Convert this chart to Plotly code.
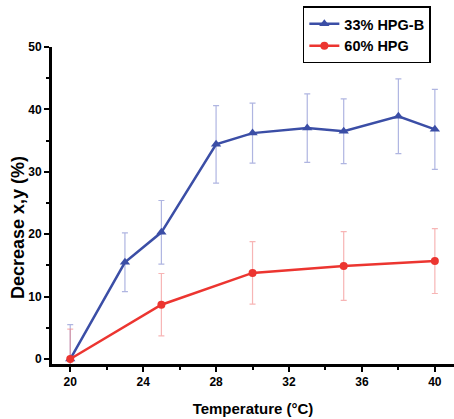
import plotly.graph_objects as go

temp_b = [20, 23, 25, 28, 30, 33, 35, 38, 40]
dec_b = [0, 15.5, 20.3, 34.4, 36.2, 37.0, 36.5, 38.9, 36.8]
err_b = [5.5, 4.7, 5.1, 6.2, 4.8, 5.5, 5.2, 6.0, 6.4]

temp_r = [20, 25, 30, 35, 40]
dec_r = [0, 8.7, 13.8, 14.9, 15.7]
err_r = [4.8, 5.0, 5.0, 5.5, 5.2]

x_ticks = [20, 24, 28, 32, 36, 40]
y_ticks = [0, 10, 20, 30, 40, 50]

FONT = "Liberation Sans, Arial, sans-serif"
BLUE = "#3b4ea6"
RED = "#ec3530"

fig = go.Figure()
fig.add_trace(go.Scatter(
    x=temp_b, y=dec_b, mode="lines+markers", name="33% HPG-B",
    line=dict(color=BLUE, width=2.5),
    marker=dict(symbol="triangle-up", size=9, color=BLUE),
    error_y=dict(type="data", array=err_b, color="rgba(110,120,200,0.55)",
                 thickness=1.2, width=3),
))
fig.add_trace(go.Scatter(
    x=temp_r, y=dec_r, mode="lines+markers", name="60% HPG",
    line=dict(color=RED, width=2.5),
    marker=dict(symbol="circle", size=8, color=RED),
    error_y=dict(type="data", array=err_r, color="rgba(240,120,120,0.55)",
                 thickness=1.2, width=3),
))

fig.update_layout(
    width=454, height=419,
    margin=dict(l=52, r=0, t=47, b=55, autoexpand=False),
    paper_bgcolor="white", plot_bgcolor="white",
    font=dict(family=FONT, color="black", size=12, weight="bold"),
    showlegend=True,
    legend=dict(
        x=0.624, y=1.128, xanchor="left", yanchor="top",
        bordercolor="black", borderwidth=1.5, bgcolor="white",
        font=dict(family=FONT, size=14.5, color="black", weight="bold"),
        tracegroupgap=0, itemwidth=30,
    ),
    xaxis=dict(
        range=[19.0, 41.05], tickvals=x_ticks, ticktext=[str(v) for v in x_ticks],
        showline=True, linecolor="black", linewidth=3,
        ticks="outside", ticklen=5, tickwidth=2, tickcolor="black",
        minor=dict(ticks="outside", ticklen=3, tickwidth=2, tickcolor="black", dtick=2, tick0=20),
        showgrid=False, zeroline=False,
        tickfont=dict(family=FONT, size=12, weight="bold"),
        title=dict(text="Temperature (°C)", font=dict(family=FONT, size=15, weight="bold"), standoff=16),
    ),
    yaxis=dict(
        range=[-0.8, 50], tickvals=y_ticks, ticktext=[str(v) for v in y_ticks],
        showline=True, linecolor="black", linewidth=3,
        ticks="outside", ticklen=5, tickwidth=2, tickcolor="black",
        minor=dict(ticks="outside", ticklen=3, tickwidth=2, tickcolor="black", dtick=5, tick0=0),
        showgrid=False, zeroline=False,
        tickfont=dict(family=FONT, size=12, weight="bold"),
    ),
    annotations=[dict(
        text="Decrease x,y (%)", textangle=-90, showarrow=False,
        xref="paper", yref="paper", x=-0.0846, y=0.432,
        xanchor="center", yanchor="middle",
        font=dict(family=FONT, size=18, color="black", weight="bold"),
    )],
)

fig.write_html("out.html", post_script="document.body.style.margin='0';",
               config={"displayModeBar": False})
